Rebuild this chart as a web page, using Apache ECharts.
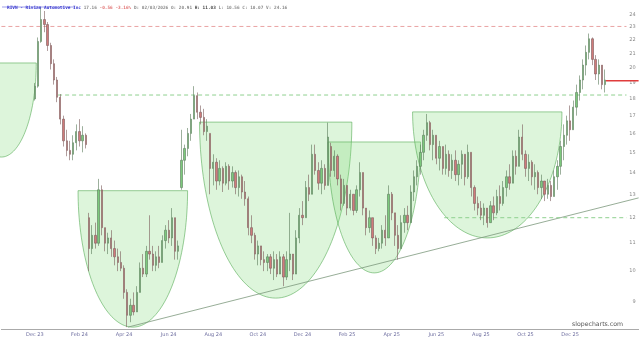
<!DOCTYPE html>
<html><head><meta charset="utf-8">
<script src="https://cdn.jsdelivr.net/npm/echarts@6.0.0/dist/echarts.min.js"></script>
<style>html,body{margin:0;padding:0;background:#fff}#c{width:640px;height:340px}</style>
</head><body><div id="c"></div>
<script>
// ---- data (each candle = ~3 trading days) ----
const open =[18.0,18.8,21.9,23.6,23.2,21.6,20.3,19.2,18.1,16.8,15.6,15.1,14.9,15.5,16.1,15.6,15.9,12.0,10.8,11.3,11.0,13.2,11.6,11.0,11.2,10.8,10.5,10.3,10.1,9.3,8.6,8.9,8.7,9.3,10.1,9.9,10.7,10.6,10.2,10.5,10.3,11.1,11.5,11.2,12.0,10.7,13.3,14.6,15.2,16.0,16.8,18.2,17.2,16.9,16.1,16.0,14.2,14.5,13.6,14.2,13.5,14.3,13.6,14.0,13.3,13.8,13.1,12.8,11.6,11.3,10.6,10.9,10.4,10.3,10.5,10.1,10.4,9.9,10.5,9.8,10.4,10.6,9.9,11.2,12.1,12.0,13.3,13.0,14.9,14.1,13.5,14.2,13.4,15.3,14.1,14.8,13.7,12.6,13.4,12.4,13.0,12.3,13.2,14.0,12.4,11.6,12.0,11.2,10.8,11.0,11.5,11.2,13.0,12.2,11.3,10.8,11.8,12.1,11.8,13.1,13.8,14.3,15.0,15.9,16.6,15.4,15.9,14.7,15.3,14.2,14.9,14.1,14.6,13.9,14.4,14.9,13.8,15.0,13.3,12.6,12.4,12.1,12.4,11.8,12.5,12.2,12.9,12.6,13.3,13.8,13.5,14.8,14.3,15.8,14.9,14.2,14.5,13.8,14.0,13.3,13.6,13.0,13.4,12.9,13.8,14.3,15.3,15.9,16.7,16.2,17.5,18.4,19.2,20.2,21.1,22.1,20.6,19.6,20.2,18.9];
const high =[19.0,22.2,24.6,24.3,23.4,21.8,20.6,19.4,18.3,17.0,16.2,15.6,15.9,16.5,16.8,16.4,16.0,12.2,11.7,11.8,13.7,13.4,11.6,11.4,11.5,11.1,10.8,10.7,10.2,9.4,9.1,9.3,9.5,10.3,10.6,10.9,12.1,10.9,10.7,10.9,11.3,11.7,11.9,12.4,12.0,11.1,16.2,15.4,16.3,17.1,18.8,18.4,17.6,17.4,16.8,16.0,14.9,14.7,14.6,14.3,14.5,14.4,14.3,14.1,14.1,13.9,13.6,12.9,12.1,11.4,11.1,10.9,10.7,10.6,10.6,10.7,10.6,10.7,10.6,10.7,12.2,10.6,11.5,12.4,12.7,13.6,13.9,15.4,15.4,14.5,14.6,14.4,16.6,15.5,15.1,14.9,13.9,13.7,13.4,13.2,13.0,13.4,14.5,14.0,12.4,12.3,12.0,11.3,11.2,11.7,12.1,13.4,13.1,12.2,11.7,12.1,12.4,12.5,13.4,14.1,14.6,15.4,16.2,17.1,16.7,16.2,15.9,15.6,15.3,15.4,15.1,14.9,15.1,14.6,15.1,14.9,15.4,15.0,13.4,12.9,12.7,12.6,12.4,12.7,12.9,13.2,13.4,13.6,14.1,14.4,15.1,15.1,16.2,16.5,15.1,14.9,14.6,14.4,14.1,13.9,13.6,13.7,13.6,14.1,14.6,15.6,16.5,17.0,17.6,17.9,18.9,19.5,20.6,21.6,22.5,22.2,20.9,20.6,20.2,19.9];
const low  =[17.9,18.7,21.8,22.6,21.2,19.9,18.9,17.8,16.5,15.3,14.8,14.6,14.6,15.1,15.3,15.0,15.2,10.0,10.6,10.8,10.9,11.3,10.7,10.6,10.5,10.2,10.0,10.0,9.1,8.26,8.4,8.6,8.7,9.3,9.8,9.8,10.4,10.0,10.0,10.1,10.3,10.8,11.0,10.9,10.4,10.4,13.2,13.9,14.8,15.6,16.8,16.8,16.5,15.9,15.6,13.0,13.4,13.2,13.4,13.1,13.4,13.2,13.3,13.0,12.9,12.8,12.5,11.3,11.0,10.4,10.2,10.2,10.0,10.0,9.9,9.7,9.8,9.9,9.5,9.7,10.0,9.7,9.9,11.0,11.7,12.0,12.7,13.0,13.9,13.2,13.0,13.2,13.4,13.8,13.8,13.4,12.3,12.5,12.1,12.3,12.1,12.2,12.9,12.1,11.3,11.4,10.9,10.6,10.7,10.8,10.9,11.2,11.9,10.9,10.4,10.8,11.4,11.5,11.8,12.7,13.4,13.9,14.6,15.6,15.1,14.6,14.4,14.1,13.9,13.9,13.8,13.7,13.6,13.4,13.7,13.4,13.7,12.9,12.3,12.1,11.9,11.7,11.6,11.8,11.9,12.1,12.3,12.5,12.9,13.2,13.5,13.9,14.3,14.6,13.8,13.6,13.4,13.2,13.0,12.8,12.7,12.8,12.7,12.9,13.2,13.9,14.6,15.4,15.6,16.2,17.0,17.9,18.6,19.5,20.6,20.2,19.2,18.9,18.6,18.4];
const close=[18.8,21.9,23.6,23.2,21.6,20.3,19.2,18.1,16.8,15.6,15.1,14.9,15.5,16.1,15.6,15.9,15.4,10.8,11.3,11.0,13.2,11.6,11.0,11.2,10.8,10.5,10.3,10.1,9.3,8.6,8.9,8.7,9.3,10.1,9.9,10.7,10.6,10.2,10.5,10.3,11.1,11.5,11.2,12.0,10.7,10.9,14.6,15.2,16.0,16.8,18.2,17.2,16.9,16.1,16.4,14.2,14.5,13.6,14.2,13.5,14.3,13.6,14.0,13.3,13.8,13.1,12.8,11.6,11.3,10.6,10.9,10.4,10.3,10.5,10.1,10.4,9.9,10.5,9.8,10.4,10.6,9.9,11.2,12.1,12.0,13.3,13.0,14.9,14.1,13.5,14.2,13.4,15.8,14.1,14.8,13.7,12.6,13.4,12.4,13.0,12.3,13.2,14.0,12.4,11.6,12.0,11.2,10.8,11.0,11.5,11.2,13.0,12.2,11.3,10.8,11.8,12.1,11.8,13.1,13.8,14.3,15.0,15.9,16.6,15.4,15.9,14.7,15.3,14.2,14.9,14.1,14.6,13.9,14.4,14.9,13.8,15.0,13.3,12.6,12.4,12.1,12.4,11.8,12.5,12.2,12.9,12.6,13.3,13.8,13.5,14.8,14.3,15.8,14.9,14.2,14.5,13.8,14.0,13.3,13.6,13.0,13.4,12.9,13.8,14.3,15.3,15.9,16.7,16.2,17.5,18.4,19.2,20.2,21.1,22.1,20.6,19.6,20.2,18.9,19.2];
const xTickCats  =[10,24,38,52,66,80,94,108,122,136,150,164,178];
const xTickLabels=['Dec 23','Feb 24','Apr 24','Jun 24','Aug 24','Oct 24','Dec 24','Feb 25','Apr 25','Jun 25','Aug 25','Oct 25','Dec 25'];
const yTicks=[9,10,11,12,13,14,15,16,17,18,19,20,21,22,23,24];
// cup patterns: [left slot, right slot, rim price, bottom price]
const cupLeft  =[-10.94,24.06,62.19,102.5,129.06];
const cupRight =[10.94,58.44,110.0,131.56,175.94];
const cupTop   =[20.35,13.16,16.63,15.54,17.22];
const cupBottom=[14.76,8.26,9.12,9.94,11.2];
const trendX=[39.7,200], trendP=[8.26,12.84];
const levelFrom=[0,17.8,139], levelTo=[196.2,196.2,196.2], levelPrice=[23.05,18.24,12.0];
const levelColor=['#e9a3a3','#8fd08f','#8fd08f'];
const lastPrice=19.15, lastFrom=189.7, lastTo=200;

// ---- layout constants ----
const SLOTS=200, FIRST=10;
const L=p=>Math.log10(p);
const cats=[]; for(let i=0;i<SLOTS;i++) cats.push(String(i));
const labelMap={}; xTickCats.forEach((c,i)=>labelMap[c]=xTickLabels[i]);
const candles=close.map((c,j)=>[FIRST+j,L(open[j]),L(c),L(low[j]),L(high[j])]);
const cupData=cupLeft.map((l,i)=>[l,cupRight[i],L(cupTop[i]),L(cupBottom[i])]);

const levelSeries=levelPrice.map((p,i)=>({
  type:'line',xAxisIndex:1,symbol:'none',silent:true,z:2,
  data:[[levelFrom[i],L(p)],[levelTo[i],L(p)]],
  lineStyle:{color:levelColor[i],width:1,type:[4,3]}
}));

const chart=echarts.init(document.getElementById('c'),null,{renderer:'canvas'});
chart.setOption({
  animation:false,
  backgroundColor:'#fff',
  grid:{left:0,right:0,top:0,bottom:11,containLabel:false},
  title:{
    left:2,top:1,
    text:'{a|RIVN - Rivian Automotive Inc} {b|17.16} {r|-0.56 -3.16%} {b|D: 02/03/2026 O: 20.91} {h|H: 11.03} {b|L: 10.56 C: 10.07 V: 24.16}',
    textStyle:{fontSize:4.4,fontFamily:'DejaVu Sans Mono',rich:{
      a:{fontSize:4.4,fontFamily:'DejaVu Sans Mono',color:'#3a3ad0'},
      b:{fontSize:4.4,fontFamily:'DejaVu Sans Mono',color:'#888'},
      r:{fontSize:4.4,fontFamily:'DejaVu Sans Mono',color:'#e07070'},
      h:{fontSize:4.4,fontFamily:'DejaVu Sans Mono',color:'#444',fontWeight:'bold'}
    }}
  },
  graphic:[
    {type:'line',shape:{x1:2,y1:7,x2:75,y2:7},style:{stroke:'#3a3ad0',lineWidth:0.5}},
    {type:'text',x:623,y:324,style:{text:'slopecharts.com',align:'right',verticalAlign:'middle',
      textAlign:'right',textVerticalAlign:'middle',fontSize:6.2,fontFamily:'DejaVu Sans',fill:'#555'}}
  ],
  xAxis:[
    {type:'category',data:cats,boundaryGap:true,
     axisLine:{lineStyle:{color:'#aaa',width:1}},axisTick:{show:false},
     axisLabel:{interval:0,fontSize:5,color:'#6f6fa0',margin:3,fontFamily:'DejaVu Sans',
       formatter:(v,idx)=>labelMap[idx]||''},
     splitLine:{show:false}},
    {type:'value',min:0,max:SLOTS,show:false}
  ],
  yAxis:{type:'value',min:0.91422,max:1.40188,position:'right',
    axisLine:{show:false},axisTick:{show:false},splitLine:{show:false},
    axisLabel:{inside:true,margin:3,fontSize:5,color:'#888',fontFamily:'DejaVu Sans',
      customValues:yTicks.map(L),formatter:v=>String(Math.round(Math.pow(10,v)))}},
  series:[
    {type:'custom',xAxisIndex:1,z:1,silent:true,data:cupData,encode:{x:[0,1],y:[2,3]},clip:false,
     renderItem:(params,api)=>{
       const p1=api.coord([api.value(0),api.value(2)]);
       const p2=api.coord([api.value(1),api.value(3)]);
       const cx=(p1[0]+p2[0])/2,a=(p2[0]-p1[0])/2,top=p1[1],d=p2[1]-p1[1];
       const pts=[];
       for(let k=0;k<=80;k++){const t=Math.PI*k/80;pts.push([cx+a*Math.cos(t),top+d*Math.sin(t)]);}
       return {type:'polygon',shape:{points:pts},
         style:{fill:'rgba(125,218,115,0.26)',stroke:'rgba(85,170,85,0.85)',lineWidth:0.7}};
     }},
    {type:'line',xAxisIndex:1,symbol:'none',silent:true,z:2,
     data:[[trendX[0],L(trendP[0])],[trendX[1],L(trendP[1])]],
     lineStyle:{color:'#7c987c',width:0.8}},
    ...levelSeries,
    {type:'line',xAxisIndex:1,symbol:'none',silent:true,z:2,
     data:[[lastFrom,L(lastPrice)],[lastTo,L(lastPrice)]],
     lineStyle:{color:'#e03c3c',width:1.5}},
    {type:'candlestick',xAxisIndex:0,z:3,data:candles,encode:{x:0,y:[1,2,3,4]},
     barWidth:1.8,
     itemStyle:{color:'#7cc97c',color0:'#d07a7a',borderColor:'#5a7a5a',borderColor0:'#7a5a5a',borderWidth:0.6}}
  ]
});
</script></body></html>
